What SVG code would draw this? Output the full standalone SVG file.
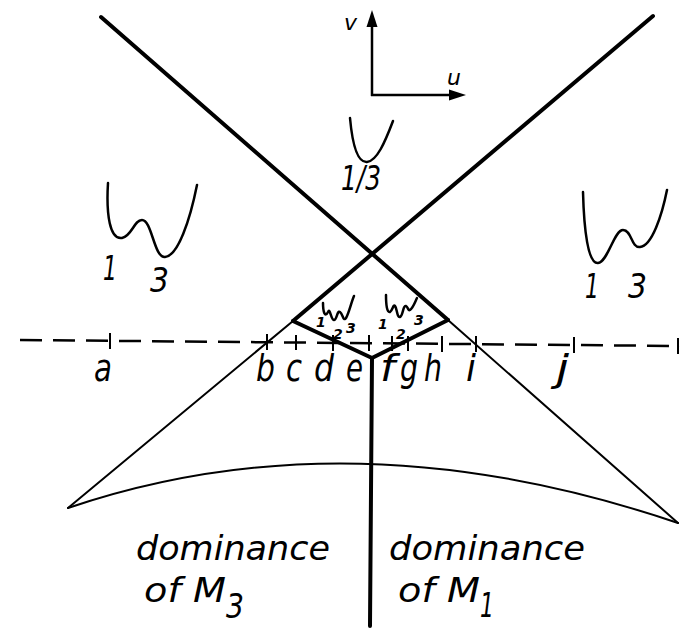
<svg xmlns="http://www.w3.org/2000/svg" width="680" height="628" viewBox="0 0 680 628">
<defs>
<style>
.thick{stroke:#000;stroke-width:4;fill:none;stroke-linecap:round;stroke-linejoin:round}
.thin{stroke:#000;stroke-width:2;fill:none;stroke-linecap:round}
.pot{stroke:#000;stroke-width:2.5;fill:none;stroke-linecap:round;stroke-linejoin:round}
.tick{stroke:#000;stroke-width:2}
.axis{stroke:#000;stroke-width:2.5;fill:none}
text{font-family:"DejaVu Sans","Liberation Sans",sans-serif;font-style:italic;fill:#000}
.lbl{font-size:38px}
.big{font-size:34px}
.num{font-size:34px}
.sm{font-size:14px;font-weight:bold}
</style>
</defs>
<rect width="680" height="628" fill="#fff"/>
<g id="lines">
<line class="thick" x1="101" y1="17" x2="448" y2="320"/>
<line class="thick" x1="653" y1="16" x2="293" y2="321"/>
<polyline class="thick" points="293,321 372,358 448,320"/>
<line class="thick" x1="372" y1="358" x2="370" y2="626"/>
<line class="thin" x1="293" y1="321" x2="68" y2="508"/>
<line class="thin" x1="448" y1="320" x2="678" y2="523"/>
<path class="thin" d="M68,508 Q351,412 678,523"/>
<line x1="20" y1="340" x2="680" y2="346" stroke="#000" stroke-width="2.5" stroke-dasharray="22 11"/>
<g id="ticks">
<line class="tick" x1="110" y1="333" x2="110" y2="349"/>
<line class="tick" x1="267" y1="334" x2="267" y2="350"/>
<line class="tick" x1="296" y1="335" x2="296" y2="350"/>
<line class="tick" x1="333" y1="335" x2="333" y2="351"/>
<line class="tick" x1="369" y1="335" x2="369" y2="351"/>
<line class="tick" x1="392" y1="336" x2="392" y2="351"/>
<line class="tick" x1="408" y1="336" x2="408" y2="351"/>
<line class="tick" x1="442" y1="336" x2="442" y2="352"/>
<line class="tick" x1="476" y1="336" x2="476" y2="352"/>
<line class="tick" x1="574" y1="337" x2="574" y2="353"/>
<line class="tick" x1="678" y1="338" x2="678" y2="354"/>
</g>
</g>
<g id="axes">
<line class="axis" x1="372" y1="96" x2="372" y2="24"/>
<polygon points="372,10 366.5,27 377.5,27" fill="#000"/>
<line class="axis" x1="371" y1="95" x2="452" y2="95"/>
<polygon points="466,95 449,89.5 449,100.5" fill="#000"/>
<text x="344" y="30" font-size="22">v</text>
<text x="447" y="85" font-size="22">u</text>
</g>
<g id="pot-top">
<path class="pot" d="M350,118 C352,140 356,163 367,162 C377,161 385,142 393,121"/>
<text class="num" x="341" y="190" textLength="40" lengthAdjust="spacingAndGlyphs">1/3</text>
</g>
<g id="pot-left">
<path class="pot" d="M108,183 C106,215 110,240 122,238 C132,236 134,220 142,220 C152,220 154,258 165,257 C178,256 190,220 197,185"/>
<text class="num" x="103" y="280" textLength="14" lengthAdjust="spacingAndGlyphs">1</text>
<text class="num" x="150" y="292" textLength="19" lengthAdjust="spacingAndGlyphs">3</text>
</g>
<g id="pot-right">
<path class="pot" d="M583,192 C584,230 588,264 598,263 C608,262 614,230 623,230 C632,230 631,248 640,247 C652,246 662,215 667,190"/>
<text class="num" x="585" y="298" textLength="14" lengthAdjust="spacingAndGlyphs">1</text>
<text class="num" x="628" y="298" textLength="19" lengthAdjust="spacingAndGlyphs">3</text>
</g>
<g id="pot-small-left">
<path class="pot" d="M323,303 C323,312 325,318 328,312 C330,307 331,320 334,320 C337,320 337,310 340,312 C343,314 343,322 346,318 C349,313 351,303 354,296"/>
<text class="sm" x="316" y="327">1</text>
<text class="sm" x="333" y="339">2</text>
<text class="sm" x="346" y="333">3</text>
</g>
<g id="pot-small-right">
<path class="pot" d="M386,295 C386,305 387,313 390,312 C393,310 393,304 395,306 C397,308 397,318 400,317 C403,316 403,305 406,306 C408,307 408,311 410,310 C413,308 415,302 417,298"/>
<text class="sm" x="378" y="329">1</text>
<text class="sm" x="396" y="339">2</text>
<text class="sm" x="414" y="325">3</text>
</g>
<g id="point-labels">
<text class="lbl" x="94" y="381" textLength="18" lengthAdjust="spacingAndGlyphs">a</text>
<text class="lbl" x="256" y="381" textLength="19" lengthAdjust="spacingAndGlyphs">b</text>
<text class="lbl" x="286" y="381" textLength="16" lengthAdjust="spacingAndGlyphs">c</text>
<text class="lbl" x="314" y="381" textLength="20" lengthAdjust="spacingAndGlyphs">d</text>
<text class="lbl" x="346" y="381" textLength="17" lengthAdjust="spacingAndGlyphs">e</text>
<text class="lbl" x="380" y="381" textLength="15" lengthAdjust="spacingAndGlyphs">f</text>
<text class="lbl" x="400" y="381" textLength="18" lengthAdjust="spacingAndGlyphs">g</text>
<text class="lbl" x="424" y="381" textLength="18" lengthAdjust="spacingAndGlyphs">h</text>
<text class="lbl" x="466" y="381" textLength="10" lengthAdjust="spacingAndGlyphs">i</text>
<text class="lbl" x="556" y="381" textLength="13" lengthAdjust="spacingAndGlyphs">j</text>
</g>
<g id="dominance-M3">
<text class="big" x="136" y="560" textLength="194" lengthAdjust="spacingAndGlyphs">dominance</text>
<text class="big" x="144" y="602" textLength="82" lengthAdjust="spacingAndGlyphs">of M</text>
<text class="big" x="226" y="618" textLength="18" lengthAdjust="spacingAndGlyphs">3</text>
</g>
<g id="dominance-M1">
<text class="big" x="389" y="560" textLength="196" lengthAdjust="spacingAndGlyphs">dominance</text>
<text class="big" x="398" y="602" textLength="82" lengthAdjust="spacingAndGlyphs">of M</text>
<text class="big" x="480" y="617" textLength="14" lengthAdjust="spacingAndGlyphs">1</text>
</g>
</svg>
